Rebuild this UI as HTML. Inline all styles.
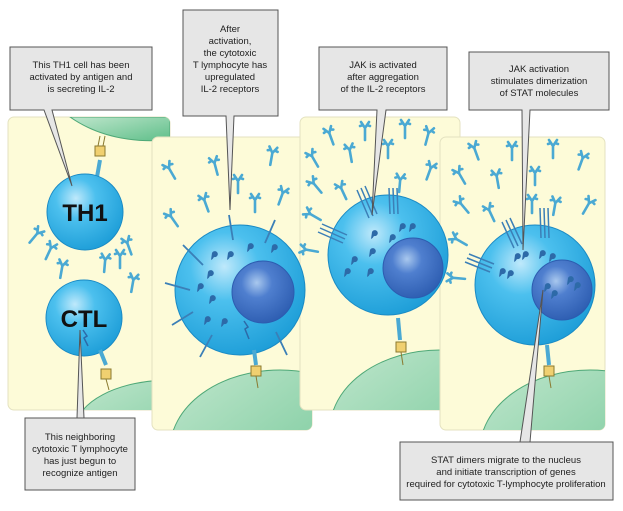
<!DOCTYPE html>
<html><head><meta charset="utf-8"><style>
html,body{margin:0;padding:0;background:#fff;width:623px;height:511px;overflow:hidden}
svg{display:block}
text{font-family:"Liberation Sans",sans-serif;font-size:9.5px;fill:#222}
</style></head><body>
<svg width="623" height="511" viewBox="0 0 623 511" xmlns="http://www.w3.org/2000/svg">
<defs>
<radialGradient id="cell" cx="0.38" cy="0.32" r="0.75">
<stop offset="0" stop-color="#bfe9fb"/><stop offset="0.35" stop-color="#4cc0ee"/><stop offset="1" stop-color="#1a9bd6"/></radialGradient>
<radialGradient id="nuc" cx="0.4" cy="0.35" r="0.7">
<stop offset="0" stop-color="#a9c8ee"/><stop offset="0.35" stop-color="#4f7fcf"/><stop offset="1" stop-color="#2c5cb0"/></radialGradient>
<linearGradient id="grn" x1="0" y1="0" x2="1" y2="1"><stop offset="0" stop-color="#bfe6cc"/><stop offset="1" stop-color="#5fbf8a"/></linearGradient>
<g id="y"><path d="M0,10 L0,-2 M0,-2 L-4,-8 M0,-2 L4,-8 M-2,-5 L-5,-4 M2,-5 L5,-4" stroke="#4aa9d3" stroke-width="2.6" fill="none" stroke-linecap="round"/></g>
<g id="d"><path d="M0,0 a3,3 0 1 1 2,4 q-1,2 -3,3" fill="#2d6aa8"/></g>
<clipPath id="c1"><rect x="8" y="117" width="162" height="293" rx="6"/></clipPath>
<clipPath id="c2"><rect x="152" y="137" width="160" height="293" rx="6"/></clipPath>
<clipPath id="c3"><rect x="300" y="117" width="160" height="293" rx="6"/></clipPath>
<clipPath id="c4"><rect x="440" y="137" width="165" height="293" rx="6"/></clipPath>
</defs>

<rect x="8" y="117" width="162" height="293" rx="6" fill="#fdfbd8" stroke="#e4e2c0"/>
<g clip-path="url(#c1)">
<path d="M70,117 H170 V140 Q110,145 70,117 Z" fill="url(#grn)" stroke="#4ea877"/>
<ellipse cx="170" cy="430" rx="95" ry="50" fill="url(#grn)" stroke="#4ea877"/>
</g>
<rect x="152" y="137" width="160" height="293" rx="6" fill="#fdfbd8" stroke="#e4e2c0"/>
<g clip-path="url(#c2)"><ellipse cx="280" cy="450" rx="110" ry="80" fill="url(#grn)" stroke="#4ea877"/></g>
<rect x="300" y="117" width="160" height="293" rx="6" fill="#fdfbd8" stroke="#e4e2c0"/>
<g clip-path="url(#c3)"><ellipse cx="440" cy="430" rx="110" ry="80" fill="url(#grn)" stroke="#4ea877"/></g>
<rect x="440" y="137" width="165" height="293" rx="6" fill="#fdfbd8" stroke="#e4e2c0"/>
<g clip-path="url(#c4)"><ellipse cx="590" cy="450" rx="110" ry="80" fill="url(#grn)" stroke="#4ea877"/></g>

<path d="M97,177 L100,160" stroke="#4aa9d3" stroke-width="4"/>
<rect x="95" y="146" width="10" height="10" fill="#f0d070" stroke="#8a7a30"/>
<path d="M98,146 L100,136 M103,146 L105,136" stroke="#8a7a30" stroke-width="1"/>
<circle cx="85" cy="212" r="38" fill="url(#cell)" stroke="#1a8ac4"/>
<text x="85" y="221" text-anchor="middle" style="font-size:24px;font-weight:bold;fill:#111">TH1</text>
<circle cx="84" cy="318" r="38" fill="url(#cell)" stroke="#1a8ac4"/>
<text x="84" y="327" text-anchor="middle" style="font-size:24px;font-weight:bold;fill:#111">CTL</text>
<path d="M83,330 l4,6 -3,2 4,8" stroke="#2d6aa8" stroke-width="1.5" fill="none"/>
<path d="M100,350 L106,365" stroke="#4aa9d3" stroke-width="4"/>
<rect x="101" y="369" width="10" height="10" fill="#f0d070" stroke="#8a7a30"/>
<path d="M106,379 L109,390" stroke="#8a7a30"/>
<use href="#y" transform="translate(36,235) rotate(40)"/>
<use href="#y" transform="translate(50,250) rotate(25)"/>
<use href="#y" transform="translate(62,268) rotate(10)"/>
<use href="#y" transform="translate(105,262) rotate(5)"/>
<use href="#y" transform="translate(120,258) rotate(0)"/>
<use href="#y" transform="translate(128,245) rotate(-20)"/>
<use href="#y" transform="translate(133,282) rotate(10)"/>

<circle cx="240" cy="290" r="65" fill="url(#cell)" stroke="#1a8ac4"/>
<circle cx="263" cy="292" r="31" fill="url(#nuc)" stroke="#2c5cb0"/>
<g stroke="#3b7fb7" stroke-width="1.8">
<line x1="229" y1="215" x2="233" y2="240"/><line x1="275" y1="220" x2="265" y2="243"/>
<line x1="183" y1="245" x2="203" y2="265"/><line x1="165" y1="283" x2="190" y2="290"/>
<line x1="172" y1="325" x2="193" y2="312"/><line x1="200" y1="357" x2="212" y2="335"/>
<line x1="287" y1="355" x2="276" y2="332"/>
</g>
<g fill="#3b7fb7">
<use href="#d" transform="translate(212,253)"/><use href="#d" transform="translate(228,253)"/>
<use href="#d" transform="translate(248,245)"/><use href="#d" transform="translate(272,246)"/>
<use href="#d" transform="translate(208,272)"/><use href="#d" transform="translate(198,285)"/>
<use href="#d" transform="translate(210,297)"/><use href="#d" transform="translate(205,318)"/>
<use href="#d" transform="translate(222,320)"/>
</g>
<path d="M244,321 l4,6 -3,2 4,10" stroke="#2d6aa8" stroke-width="1.5" fill="none"/>
<path d="M254,350 L256,365" stroke="#4aa9d3" stroke-width="4"/>
<rect x="251" y="366" width="10" height="10" fill="#f0d070" stroke="#8a7a30"/>
<path d="M256,376 L258,388" stroke="#8a7a30"/>
<use href="#y" transform="translate(170,170) rotate(-30)"/>
<use href="#y" transform="translate(215,165) rotate(-15)"/>
<use href="#y" transform="translate(272,155) rotate(10)"/>
<use href="#y" transform="translate(238,183) rotate(0)"/>
<use href="#y" transform="translate(205,202) rotate(-20)"/>
<use href="#y" transform="translate(255,202) rotate(0)"/>
<use href="#y" transform="translate(282,195) rotate(20)"/>
<use href="#y" transform="translate(172,218) rotate(-35)"/>

<circle cx="388" cy="255" r="60" fill="url(#cell)" stroke="#1a8ac4"/>
<circle cx="413" cy="268" r="30" fill="url(#nuc)" stroke="#2c5cb0"/>
<g stroke="#3b7fb7" stroke-width="1.5">
<path d="M357,190 L369,218 M361,188 L373,216 M365,186 L377,214"/>
<path d="M389,188 L390,214 M393,188 L394,214 M397,188 L398,214"/>
<path d="M318,232 L343,243 M320,228 L345,239 M322,224 L347,235"/>
</g>
<g fill="#3b7fb7">
<use href="#d" transform="translate(372,232)"/><use href="#d" transform="translate(400,225)"/><use href="#d" transform="translate(410,225)"/>
<use href="#d" transform="translate(390,236)"/><use href="#d" transform="translate(352,258)"/><use href="#d" transform="translate(370,250)"/>
<use href="#d" transform="translate(345,270)"/><use href="#d" transform="translate(368,270)"/>
</g>
<path d="M398,318 L400,340" stroke="#4aa9d3" stroke-width="4"/>
<rect x="396" y="342" width="10" height="10" fill="#f0d070" stroke="#8a7a30"/>
<path d="M401,352 L403,365" stroke="#8a7a30"/>
<use href="#y" transform="translate(330,135) rotate(-20)"/>
<use href="#y" transform="translate(365,130) rotate(0)"/>
<use href="#y" transform="translate(405,128) rotate(0)"/>
<use href="#y" transform="translate(428,135) rotate(15)"/>
<use href="#y" transform="translate(313,158) rotate(-30)"/>
<use href="#y" transform="translate(350,152) rotate(-10)"/>
<use href="#y" transform="translate(388,148) rotate(0)"/>
<use href="#y" transform="translate(430,170) rotate(20)"/>
<use href="#y" transform="translate(315,185) rotate(-40)"/>
<use href="#y" transform="translate(342,190) rotate(-25)"/>
<use href="#y" transform="translate(400,182) rotate(5)"/>
<use href="#y" transform="translate(312,215) rotate(-60)"/>
<use href="#y" transform="translate(308,250) rotate(-80)"/>

<circle cx="535" cy="285" r="60" fill="url(#cell)" stroke="#1a8ac4"/>
<circle cx="562" cy="290" r="30" fill="url(#nuc)" stroke="#2c5cb0"/>
<g stroke="#3b7fb7" stroke-width="1.5">
<path d="M502,222 L514,248 M506,220 L518,246 M510,218 L522,244"/>
<path d="M540,208 L541,238 M544,208 L545,238 M548,208 L549,238"/>
<path d="M465,262 L490,272 M467,258 L492,268 M469,254 L494,264"/>
</g>
<g fill="#3b7fb7">
<use href="#d" transform="translate(515,255)"/><use href="#d" transform="translate(523,253)"/>
<use href="#d" transform="translate(540,252)"/><use href="#d" transform="translate(550,255)"/>
<use href="#d" transform="translate(500,270)"/><use href="#d" transform="translate(508,272)"/>
<use href="#d" transform="translate(545,285)"/><use href="#d" transform="translate(552,292)"/>
<use href="#d" transform="translate(568,278)"/><use href="#d" transform="translate(575,284)"/>
</g>
<path d="M547,345 L549,365" stroke="#4aa9d3" stroke-width="4"/>
<rect x="544" y="366" width="10" height="10" fill="#f0d070" stroke="#8a7a30"/>
<path d="M549,376 L551,388" stroke="#8a7a30"/>
<use href="#y" transform="translate(475,150) rotate(-20)"/>
<use href="#y" transform="translate(512,150) rotate(0)"/>
<use href="#y" transform="translate(553,148) rotate(0)"/>
<use href="#y" transform="translate(582,160) rotate(20)"/>
<use href="#y" transform="translate(460,175) rotate(-30)"/>
<use href="#y" transform="translate(497,178) rotate(-10)"/>
<use href="#y" transform="translate(535,175) rotate(0)"/>
<use href="#y" transform="translate(588,205) rotate(30)"/>
<use href="#y" transform="translate(462,205) rotate(-40)"/>
<use href="#y" transform="translate(490,212) rotate(-25)"/>
<use href="#y" transform="translate(532,203) rotate(0)"/>
<use href="#y" transform="translate(555,205) rotate(10)"/>
<use href="#y" transform="translate(458,240) rotate(-60)"/>
<use href="#y" transform="translate(455,278) rotate(-85)"/>

<g fill="#e6e6e6" stroke="#555" stroke-width="1">
<path d="M10,47 H152 V110 H52 L72,186 L44,110 H10 Z"/>
<path d="M183,10 H278 V116 H234 L230,210 L226,116 H183 Z"/>
<path d="M319,47 H447 V110 H386 L372,215 L377,110 H319 Z"/>
<path d="M469,52 H609 V110 H530 L523,250 L522,110 H469 Z"/>
<path d="M25,418 H135 V490 H25 Z M77,418 L80,330 L84,418"/>
<path d="M400,442 H613 V500 H400 Z M520,442 L543,290 L530,442"/>
</g>
<rect x="26" y="419" width="108" height="70" fill="#e6e6e6"/>
<rect x="401" y="443" width="211" height="56" fill="#e6e6e6"/>
<g text-anchor="middle">
<text x="81" y="68">This TH1 cell has been</text>
<text x="81" y="80">activated by antigen and</text>
<text x="81" y="92">is secreting IL-2</text>
<text x="230" y="32">After</text><text x="230" y="44">activation,</text>
<text x="230" y="56">the cytotoxic</text><text x="230" y="68">T lymphocyte has</text>
<text x="230" y="80">upregulated</text><text x="230" y="92">IL-2 receptors</text>
<text x="383" y="68">JAK is activated</text><text x="383" y="80">after aggregation</text>
<text x="383" y="92">of the IL-2 receptors</text>
<text x="539" y="72">JAK activation</text><text x="539" y="84">stimulates dimerization</text>
<text x="539" y="96">of STAT molecules</text>
<text x="80" y="440">This neighboring</text><text x="80" y="452">cytotoxic T lymphocyte</text>
<text x="80" y="464">has just begun to</text><text x="80" y="476">recognize antigen</text>
<text x="506" y="463">STAT dimers migrate to the nucleus</text>
<text x="506" y="475">and initiate transcription of genes</text>
<text x="506" y="487">required for cytotoxic T-lymphocyte proliferation</text>
</g>
</svg>
</body></html>
